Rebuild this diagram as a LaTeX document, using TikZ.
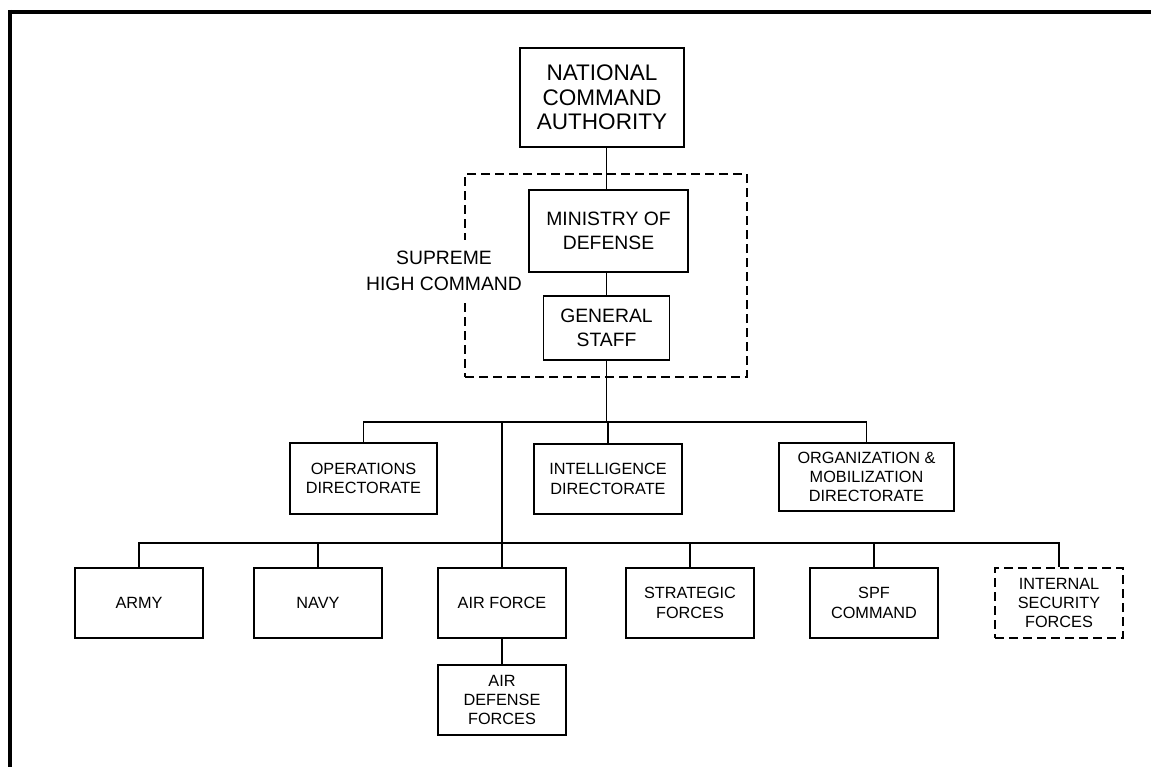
\documentclass[tikz,border=0pt]{standalone}
\usepackage{fontspec}
\setmainfont{Liberation Sans}

\tikzset{
  unit/.style={draw, line width=1.1pt, align=center, inner sep=0pt,
    font=\fontsize{12.2}{14.5}\selectfont},
  rowunit/.style={unit, minimum width=96pt, minimum height=52.5pt},
  dashunit/.style={line width=1.5pt, dash pattern=on 6.5pt off 4pt},
  link/.style={line width=1pt}
}

\begin{document}
\begin{tikzpicture}[x=0.75pt,y=-0.75pt]
\useasboundingbox (0,0) rectangle (1151,767);
\draw[line width=3pt] (8,12) -- (1151,12);
\draw[line width=3pt] (10,10) -- (10,767);

% supreme high command group
\node[dashunit, draw, minimum width=211.5pt, minimum height=152.25pt] (shc) at (606,275.5) {};

\node[unit, font=\fontsize{16.9}{18.4}\selectfont, minimum width=123pt, minimum height=74.25pt] (nca) at (602,97.5) {NATIONAL\\COMMAND\\AUTHORITY};
\node[unit, font=\fontsize{14.5}{17.5}\selectfont, minimum width=119.25pt, minimum height=61.5pt] (mod) at (608.5,231) {MINISTRY OF\\DEFENSE};
\node[unit, font=\fontsize{14.5}{17.5}\selectfont, minimum width=94.5pt, minimum height=48pt] (gs) at (606.5,328) {GENERAL\\STAFF};

% directorates
\node[unit, minimum width=110.25pt, minimum height=53.25pt] (ops) at (363.5,478.5) {OPERATIONS\\DIRECTORATE};
\node[unit, minimum width=111pt, minimum height=52.5pt] (intel) at (608,479) {INTELLIGENCE\\DIRECTORATE};
\node[unit, minimum width=131.25pt, minimum height=51pt] (org) at (866.5,477) {ORGANIZATION \&\\MOBILIZATION\\DIRECTORATE};

% services
\node[rowunit] (army) at (139,603) {ARMY};
\node[rowunit] (navy) at (318,603) {NAVY};
\node[rowunit] (af) at (502,603) {AIR FORCE};
\node[rowunit] (strat) at (690,603) {STRATEGIC\\FORCES};
\node[rowunit] (spf) at (874,603) {SPF\\COMMAND};
\node[unit, dashunit, minimum width=96pt, minimum height=52.5pt] (isf) at (1059,603) {INTERNAL\\SECURITY\\FORCES};
\node[rowunit] (adf) at (502,700) {AIR\\DEFENSE\\FORCES};

\coordinate (bus1) at (606.5,422);
\coordinate (bus2) at (502,543);

\draw[link] (nca.south -| gs.north) -- (mod.north -| gs.north);
\draw[link] (mod.south -| gs.north) -- (gs.north);
\draw[link] (gs.south) -- (bus1);
\draw[link] (ops.north) |- (bus1) -| (org.north);
\draw[link] (intel.north) -- (intel.north |- bus1);
\draw[link] (bus1 -| af.north) -- (af.north);
\draw[link] (army.north) |- (bus2) -| (isf.north);
\foreach \unitname in {navy,strat,spf}
  \draw[link] (\unitname.north) -- (\unitname.north |- bus2);
\draw[link] (af.south) -- (adf.north);

\node[fill=white, align=center, inner xsep=3pt, inner ysep=8pt, font=\fontsize{14.5}{19.5}\selectfont] (shclabel) at (444,270.5) {SUPREME\\HIGH COMMAND};
\end{tikzpicture}
\end{document}
